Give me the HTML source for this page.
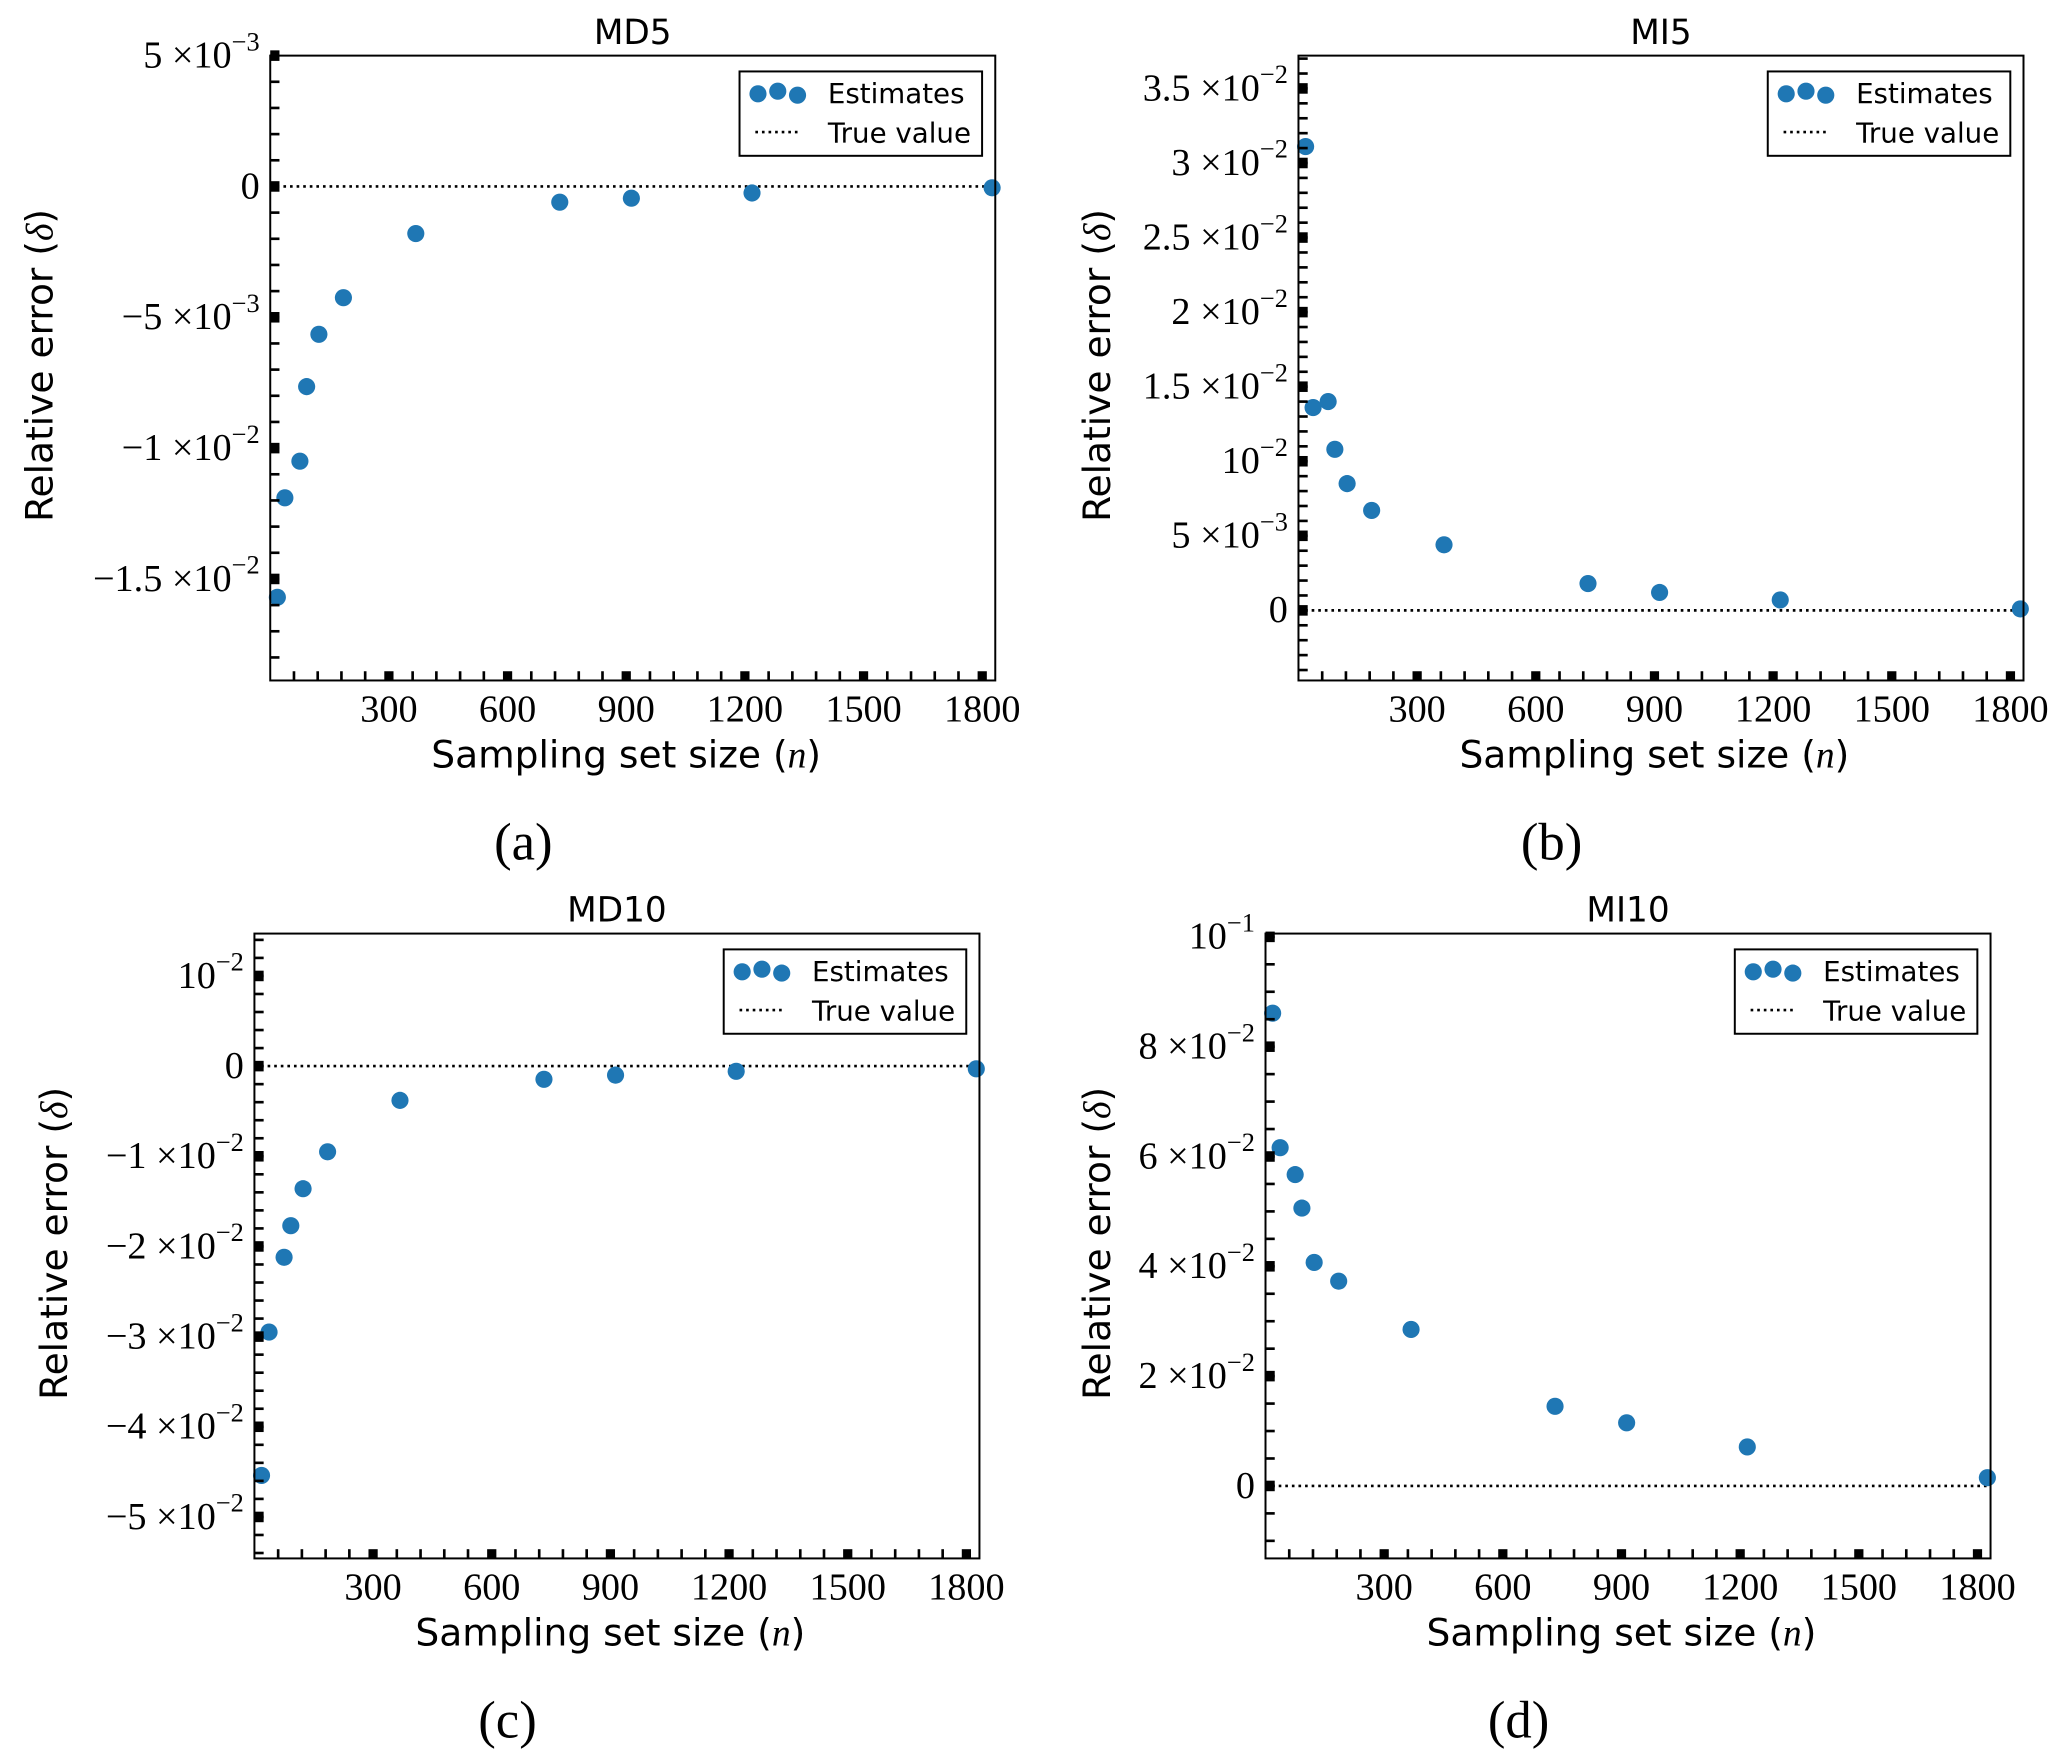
<!DOCTYPE html>
<html><head><meta charset="utf-8"><style>
html,body{margin:0;padding:0;background:#fff;}
svg{display:block;}
.tl{font-family:"Liberation Serif",serif;font-size:29px;fill:#000;}
.sup{font-size:20px;}
.al{font-family:"DejaVu Sans","Liberation Sans",sans-serif;font-size:28.5px;fill:#000;}
.tt{font-family:"DejaVu Sans","Liberation Sans",sans-serif;font-size:26px;fill:#000;}
.lg{font-family:"DejaVu Sans","Liberation Sans",sans-serif;font-size:21px;fill:#000;}
.cap{font-family:"Liberation Serif",serif;font-size:40px;fill:#000;}
</style></head><body>
<svg id="fig" width="2067" height="1763" viewBox="0 0 1568 1337" xmlns="http://www.w3.org/2000/svg"></svg>
<script>
// shared sample sizes
const sampleSizes = [18, 37, 75, 92, 123, 185, 368, 732, 913, 1218, 1825];
const xTicks = [300, 600, 900, 1200, 1500, 1800];
// series values per panel
const md5Values = [-0.0157, -0.0119, -0.0105, -0.00765, -0.00565, -0.00425, -0.0018, -0.0006, -0.00045, -0.00025, -0.00005];
const mi5Values = [0.0311, 0.0136, 0.0140, 0.0108, 0.0085, 0.0067, 0.0044, 0.0018, 0.0012, 0.0007, 0.0001];
const md10Values = [-0.0454, -0.0295, -0.0212, -0.0177, -0.0136, -0.0095, -0.0038, -0.00146, -0.001, -0.00058, -0.0003];
const mi10Values = [0.0861, 0.0616, 0.0567, 0.0506, 0.0407, 0.0373, 0.0285, 0.0145, 0.0115, 0.0071, 0.0015];
// y tick values and labels
const md5YTicks = [0.005, 0, -0.005, -0.01, -0.015];
const md5YLabels = [["5 ×10","−3"], ["0",""], ["−5 ×10","−3"], ["−1 ×10","−2"], ["−1.5 ×10","−2"]];
const mi5YTicks = [0, 0.005, 0.01, 0.015, 0.02, 0.025, 0.03, 0.035];
const mi5YLabels = [["0",""], ["5 ×10","−3"], ["10","−2"], ["1.5 ×10","−2"], ["2 ×10","−2"], ["2.5 ×10","−2"], ["3 ×10","−2"], ["3.5 ×10","−2"]];
const md10YTicks = [0.01, 0, -0.01, -0.02, -0.03, -0.04, -0.05];
const md10YLabels = [["10","−2"], ["0",""], ["−1 ×10","−2"], ["−2 ×10","−2"], ["−3 ×10","−2"], ["−4 ×10","−2"], ["−5 ×10","−2"]];
const mi10YTicks = [0, 0.02, 0.04, 0.06, 0.08, 0.1];
const mi10YLabels = [["0",""], ["2 ×10","−2"], ["4 ×10","−2"], ["6 ×10","−2"], ["8 ×10","−2"], ["10","−1"]];

const NS = "http://www.w3.org/2000/svg";
const svg = document.getElementById('fig');
function mk(tag, attrs, parent, text){
  const e = document.createElementNS(NS, tag);
  for (const k in attrs) e.setAttribute(k, attrs[k]);
  if (text !== undefined) e.textContent = text;
  (parent || svg).appendChild(e);
  return e;
}
const panels = [
  {id:'md5', title:'MD5', cap:'(a)', x0:205, y0:42, vals:md5Values, yt:md5YTicks, yl:md5YLabels, ymax:0.005, ymin:-0.01888, minor:0.001, ylabX:30},
  {id:'mi5', title:'MI5', cap:'(b)', x0:985, y0:42, vals:mi5Values, yt:mi5YTicks, yl:mi5YLabels, ymax:0.0372, ymin:-0.0047, minor:0.001, ylabX:832},
  {id:'md10', title:'MD10', cap:'(c)', x0:193, y0:708, vals:md10Values, yt:md10YTicks, yl:md10YLabels, ymax:0.0147, ymin:-0.0546, minor:0.002, ylabX:41},
  {id:'mi10', title:'MI10', cap:'(d)', x0:960, y0:708, vals:mi10Values, yt:mi10YTicks, yl:mi10YLabels, ymax:0.1006, ymin:-0.0132, minor:0.005, ylabX:832},
];
const W = 550, H = 474, XMAX = 1833;
panels.forEach(p => {
  const g = mk('g', {});
  
  
  const xs = v => p.x0 + v / XMAX * W;
  const ys = v => p.y0 + (p.ymax - v) / (p.ymax - p.ymin) * H;
  const zl = mk('line', {x1:p.x0, x2:p.x0+W, y1:ys(0), y2:ys(0), stroke:'#000', 'stroke-width':2, 'stroke-dasharray':'2,3'}, g);
  
  
  p.vals.forEach((v, i) => {
    const c = mk('circle', {cx:xs(sampleSizes[i]), cy:ys(v), r:6.5, fill:'#1f77b4'}, g);
    
    
  });
  const fr = mk('rect', {x:p.x0, y:p.y0, width:W, height:H, fill:'none', stroke:'#000', 'stroke-width':1.5}, g);
  
  
  for (let v = 60; v <= XMAX; v += 60) {
    const major = v % 300 === 0;
    if (major) mk('rect', {x:xs(v)-3.5, y:p.y0+H-7, width:7, height:7, fill:'#000'}, g);
    else mk('line', {x1:xs(v), x2:xs(v), y1:p.y0+H, y2:p.y0+H-7, stroke:'#000', 'stroke-width':2}, g);
  }
  xTicks.forEach(v => {
    const t = mk('text', {x:xs(v), y:p.y0+H+31, 'text-anchor':'middle', class:'tl'}, g, String(v));
    
    
  });
  const start = Math.ceil(p.ymin / p.minor);
  for (let k = start; k * p.minor <= p.ymax; k++) {
    const y = ys(k * p.minor);
    mk('line', {x1:p.x0, x2:p.x0+7, y1:y, y2:y, stroke:'#000', 'stroke-width':2}, g);
  }
  p.yt.forEach((v, i) => {
    mk('rect', {x:p.x0, y:ys(v)-4, width:7, height:8, fill:'#000'}, g);
    const lab = p.yl[i];
    const t = mk('text', {x:p.x0-8, y:ys(v)+9, 'text-anchor':'end', class:'tl'}, g);
    
    
    mk('tspan', {}, t, lab[0]);
    if (lab[1]) mk('tspan', {class:'sup', dy:-13}, t, lab[1]);
  });
  const tt = mk('text', {x:p.x0+W/2, y:p.y0-9, 'text-anchor':'middle', class:'tt'}, g, p.title);
  
  
  const xl = mk('text', {x:p.x0+W/2-5, y:p.y0+H+66, 'text-anchor':'middle', class:'al'}, g);
  
  
  mk('tspan', {}, xl, 'Sampling set size (');
  mk('tspan', {'font-family':'Liberation Serif', 'font-style':'italic'}, xl, 'n');
  mk('tspan', {}, xl, ')');
  const cy = p.y0 + H/2 - 2;
  const yl = mk('text', {x:p.ylabX, y:cy, 'text-anchor':'middle', class:'al', transform:`rotate(-90 ${p.ylabX} ${cy})`, dy:10}, g);
  
  
  mk('tspan', {}, yl, 'Relative error (');
  mk('tspan', {'font-family':'Liberation Serif', 'font-style':'italic'}, yl, 'δ');
  mk('tspan', {}, yl, ')');
  const cp = mk('text', {x:p.x0+W/2-83, y:p.y0+H+136, 'text-anchor':'middle', class:'cap'}, g, p.cap);
  
  
  const lx = p.x0 + W - 194, ly = p.y0 + 12;
  const lg = mk('g', {}, g);
  
  
  mk('rect', {x:lx, y:ly, width:184, height:64, fill:'#fff', stroke:'#000', 'stroke-width':1.5}, lg);
  mk('circle', {cx:lx+14, cy:ly+17, r:6.5, fill:'#1f77b4'}, lg);
  mk('circle', {cx:lx+29, cy:ly+15, r:6.5, fill:'#1f77b4'}, lg);
  mk('circle', {cx:lx+44, cy:ly+18, r:6.5, fill:'#1f77b4'}, lg);
  const e1 = mk('text', {x:lx+67, y:ly+24, class:'lg'}, lg, 'Estimates');
  
  
  mk('line', {x1:lx+12, x2:lx+46, y1:ly+46, y2:ly+46, stroke:'#000', 'stroke-width':2, 'stroke-dasharray':'2,3'}, lg);
  const e2 = mk('text', {x:lx+67, y:ly+54, class:'lg'}, lg, 'True value');
  
  
});
</script>
</body></html>
